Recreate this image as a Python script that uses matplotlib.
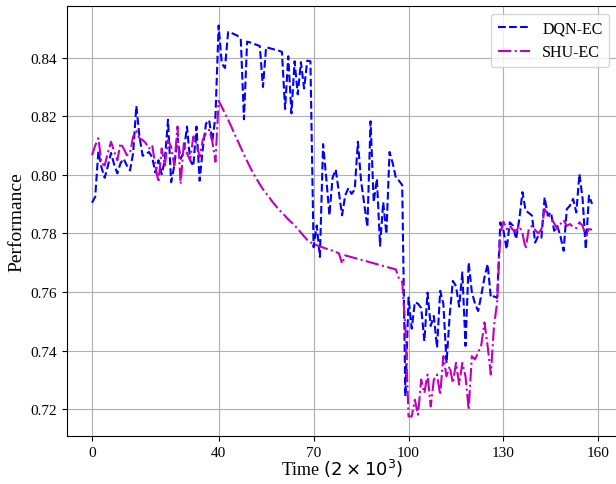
import numpy as np
import matplotlib
matplotlib.use('Agg')
import matplotlib.pyplot as plt

plt.rcParams['font.family'] = ['Liberation Serif', 'DejaVu Serif']

# DQN-EC performance, one value per time step (0..158)
dqn_ec = [
    0.7905, 0.7925, 0.8080, 0.8025, 0.7990, 0.8030, 0.8075, 0.8035, 0.8005, 0.8040,
    0.8055, 0.8032, 0.8015, 0.8075, 0.8235, 0.8130, 0.8065, 0.8072, 0.8078, 0.8060,
    0.8008, 0.8050, 0.8002, 0.8050, 0.8188, 0.7975, 0.8032, 0.8125, 0.8055, 0.8079,
    0.8165, 0.8050, 0.8030, 0.8165, 0.7980, 0.8090, 0.8175, 0.8187, 0.8114, 0.8200,
    0.8510, 0.8380, 0.8365, 0.8488, 0.8485, 0.8480, 0.8475, 0.8465, 0.8190, 0.8455,
    0.8452, 0.8448, 0.8444, 0.8440, 0.8300, 0.8436, 0.8433, 0.8430, 0.8427, 0.8424,
    0.8420, 0.8225, 0.8405, 0.8210, 0.8388, 0.8275, 0.8385, 0.8295, 0.8390, 0.8388,
    0.7753, 0.7827, 0.7720, 0.8105, 0.7990, 0.7862, 0.7990, 0.8018, 0.7940, 0.7862,
    0.7930, 0.7955, 0.7935, 0.7950, 0.8113, 0.7980, 0.7900, 0.7822, 0.8183, 0.7907,
    0.7987, 0.7758, 0.7907, 0.7798, 0.8078, 0.8040, 0.7990, 0.7980, 0.7965, 0.7244,
    0.7581, 0.7475, 0.7565, 0.7560, 0.7545, 0.7432, 0.7598, 0.7484, 0.7518, 0.7410,
    0.7604, 0.7560, 0.7358, 0.7520, 0.7638, 0.7620, 0.7550, 0.7667, 0.7416, 0.7701,
    0.7600, 0.7560, 0.7535, 0.7590, 0.7650, 0.7695, 0.7581, 0.7585, 0.7580, 0.7838,
    0.7809, 0.7746, 0.7838, 0.7826, 0.7781, 0.7849, 0.7941, 0.7878, 0.7870, 0.7861,
    0.7769, 0.7792, 0.7786, 0.7923, 0.7861, 0.7872, 0.7809, 0.7826, 0.7790, 0.7741,
    0.7883, 0.7895, 0.7918, 0.7872, 0.8003, 0.7918, 0.7746, 0.7929, 0.7901,
]

# SHU-EC performance
shu_ec = [
    0.8067, 0.8100, 0.8125, 0.8040, 0.8032, 0.8075, 0.8113, 0.8080, 0.8050, 0.8108,
    0.8090, 0.8067, 0.8073, 0.8131, 0.8150, 0.8125, 0.8119, 0.8108, 0.8090, 0.8102,
    0.8032, 0.7975, 0.8090, 0.8032, 0.8119, 0.8096, 0.8032, 0.8165, 0.7969, 0.8108,
    0.8073, 0.8050, 0.8131, 0.8108, 0.8061, 0.8120, 0.8142, 0.8154, 0.8115, 0.8045,
    0.8253, 0.8232, 0.8210, 0.8188, 0.8165, 0.8140, 0.8117, 0.8093, 0.8070, 0.8047,
    0.8025, 0.8004, 0.7986, 0.7968, 0.7951, 0.7937, 0.7923, 0.7908, 0.7895, 0.7882,
    0.7871, 0.7860, 0.7848, 0.7838, 0.7828, 0.7815, 0.7803, 0.7790, 0.7778, 0.7770,
    0.7764, 0.7760, 0.7755, 0.7752, 0.7748, 0.7745, 0.7741, 0.7737, 0.7732, 0.7697,
    0.7725, 0.7722, 0.7719, 0.7716, 0.7713, 0.7710, 0.7707, 0.7704, 0.7701, 0.7698,
    0.7695, 0.7692, 0.7689, 0.7686, 0.7683, 0.7680, 0.7677, 0.7645, 0.7635, 0.7480,
    0.7175, 0.7175, 0.7232, 0.7181, 0.7301, 0.7255, 0.7318, 0.7209, 0.7301, 0.7318,
    0.7249, 0.7381, 0.7312, 0.7347, 0.7289, 0.7358, 0.7284, 0.7358, 0.7312, 0.7198,
    0.7381, 0.7370, 0.7393, 0.7420, 0.7496, 0.7415, 0.7318, 0.7484, 0.7564, 0.7800,
    0.7840, 0.7815, 0.7826, 0.7812, 0.7809, 0.7826, 0.7800, 0.7748, 0.7815, 0.7826,
    0.7812, 0.7800, 0.7815, 0.7883, 0.7865, 0.7855, 0.7835, 0.7815, 0.7832, 0.7845,
    0.7826, 0.7832, 0.7822, 0.7818, 0.7838, 0.7826, 0.7792, 0.7815, 0.7813,
]

x_ticks = [0, 40, 70, 100, 130, 160]
steps = np.arange(len(dqn_ec))

fig = plt.figure(figsize=(6.16, 4.85), dpi=100)
ax = fig.add_axes([0.1088, 0.099, 0.893, 0.8866])

ax.plot(steps, dqn_ec, linestyle='--', color='blue', linewidth=1.5, label='DQN-EC')
ax.plot(steps, shu_ec, linestyle='-.', color='m', linewidth=1.5, label='SHU-EC')

ax.set_xticks(x_ticks)
ax.tick_params(labelsize=11)
ax.grid(True)
# label sits close to the tick labels, like the original
ax.set_xlabel('Time $(2\\times10^3)$', fontsize=13, labelpad=-1)
ax.set_ylabel('Performance', fontsize=14)
ax.legend(loc='upper right', fontsize=11.5)

fig.savefig('out.png', dpi=100)
